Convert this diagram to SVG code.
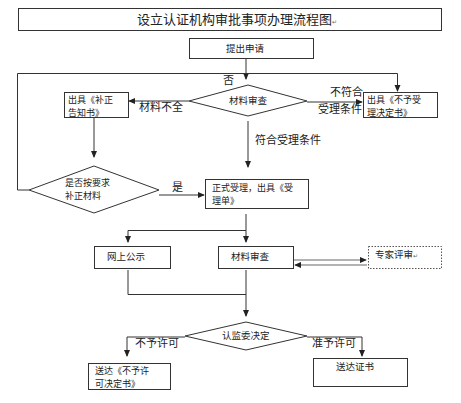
<svg xmlns="http://www.w3.org/2000/svg" width="461" height="403" viewBox="0 0 461 403">
<defs>
<marker id="ah" viewBox="0 0 8 8" refX="7" refY="4" markerWidth="7" markerHeight="7" orient="auto" markerUnits="userSpaceOnUse">
<path d="M0,0.5 L8,4 L0,7.5 Z" fill="#222"/>
</marker>
<style>
.box{fill:#fff;stroke:#333;stroke-width:1}
.dot{fill:#fff;stroke:#555;stroke-width:1;stroke-dasharray:1.5 1.5}
.ln{fill:none;stroke:#333;stroke-width:1}
.ar{fill:none;stroke:#333;stroke-width:1;marker-end:url(#ah)}
.t{font-family:"Noto Sans CJK SC","Noto Sans",sans-serif;font-size:9.5px;fill:#222}
.m{font-family:"Noto Sans CJK SC","Noto Sans",sans-serif;font-size:9px;fill:#222}
.l{font-family:"Noto Sans CJK SC","Noto Sans",sans-serif;font-size:11px;fill:#222}
.pm{font-family:"DejaVu Sans",sans-serif;font-size:6px;fill:#666}
</style>
</defs>
<rect width="461" height="403" fill="#fff"/>
<g id="title">
<rect class="box" x="18.5" y="8.5" width="423" height="22"/>
<text class="l" x="137" y="24" style="font-size:13px">设立认证机构审批事项办理流程图<tspan class="pm">↵</tspan></text>
</g>
<g id="connectors">
<path class="ar" d="M246,59 V79"/>
<path class="ln" d="M29,190 H17.5 V73.5 H397.5"/>
<path class="ar" d="M397.5,73.5 V91"/>
<path class="ar" d="M189,101 H129"/>
<path class="ar" d="M307,102 H362"/>
<path class="ar" d="M248,121 V167"/>
<path class="ar" d="M94,118 V157"/>
<path class="ar" d="M159,195 H204"/>
<path class="ln" d="M246,214 V230.5 H128"/>
<path class="ar" d="M128,230.5 V242"/>
<path class="ar" d="M246,230.5 V242"/>
<path class="ar" d="M294,260 H366" style="stroke:#666"/>
<path class="ar" d="M367,265 H295" style="stroke:#666"/>
<path class="ln" d="M128,270 V294.5 H246"/>
<path class="ar" d="M246,270 V316"/>
<path class="ln" d="M185,337 H127"/>
<path class="ar" d="M127,337 V356"/>
<path class="ln" d="M307,337 H362"/>
<path class="ar" d="M362,337 V356"/>
<text class="l" x="223" y="84">否</text>
<text class="l" x="139" y="111">材料不全</text>
<text class="l" x="330" y="96">不符合</text>
<text class="l" x="318" y="113">受理条件</text>
<text class="l" x="255" y="144">符合受理条件</text>
<text class="l" x="172" y="191">是</text>
<text class="l" x="135" y="347">不予许可</text>
<text class="l" x="312" y="347">准予许可</text>
</g>
<g id="n-apply">
<rect class="box" x="189.5" y="38.5" width="124" height="20"/>
<text class="t" x="226" y="52">提出申请</text>
</g>
<g id="n-review1">
<polygon class="box" points="189,101 248,85 307,101 248,116"/>
<text class="t" x="229" y="104">材料审查</text>
</g>
<g id="n-correct-notice">
<rect class="box" x="64.5" y="92.5" width="64" height="25"/>
<text class="m" x="68" y="102.5">出具《补正<tspan x="68" dy="13.2">告知书》</tspan></text>
</g>
<g id="n-reject-notice">
<rect class="box" x="363.5" y="92.5" width="74" height="25"/>
<text class="m" x="367" y="102.5">出具《不予受<tspan x="367" dy="13.2">理决定书》</tspan></text>
</g>
<g id="n-corrected">
<polygon class="box" points="29,190 94,166 159,190 94,213"/>
<text class="m" x="65" y="186">是否按要求<tspan x="65" dy="13.2">补正材料</tspan></text>
</g>
<g id="n-accept">
<rect class="box" x="205.5" y="179.5" width="103" height="29"/>
<text class="m" x="212" y="191">正式受理，出具《受<tspan x="212" dy="13.2">理单》</tspan></text>
</g>
<g id="n-publish">
<rect class="box" x="94.5" y="246.5" width="76" height="22"/>
<text class="t" x="107" y="260">网上公示</text>
</g>
<g id="n-review2">
<rect class="box" x="218.5" y="246.5" width="75" height="22"/>
<text class="t" x="231" y="260">材料审查</text>
</g>
<g id="n-expert">
<rect class="dot" x="368.5" y="246.5" width="73" height="22"/>
<text class="t" x="375" y="258">专家评审<tspan class="pm">↵</tspan></text>
</g>
<g id="n-decision">
<polygon class="box" points="185,336 246,322 307,336 246,350"/>
<text class="t" x="222" y="339">认监委决定</text>
</g>
<g id="n-deny">
<rect class="box" x="88.5" y="363.5" width="82" height="26"/>
<text class="m" x="95" y="374">送达《不予许<tspan x="95" dy="13.2">可决定书》</tspan></text>
</g>
<g id="n-cert">
<rect class="box" x="313.5" y="358.5" width="94" height="28"/>
<text class="t" x="336" y="370">送达证书</text>
</g>
</svg>
